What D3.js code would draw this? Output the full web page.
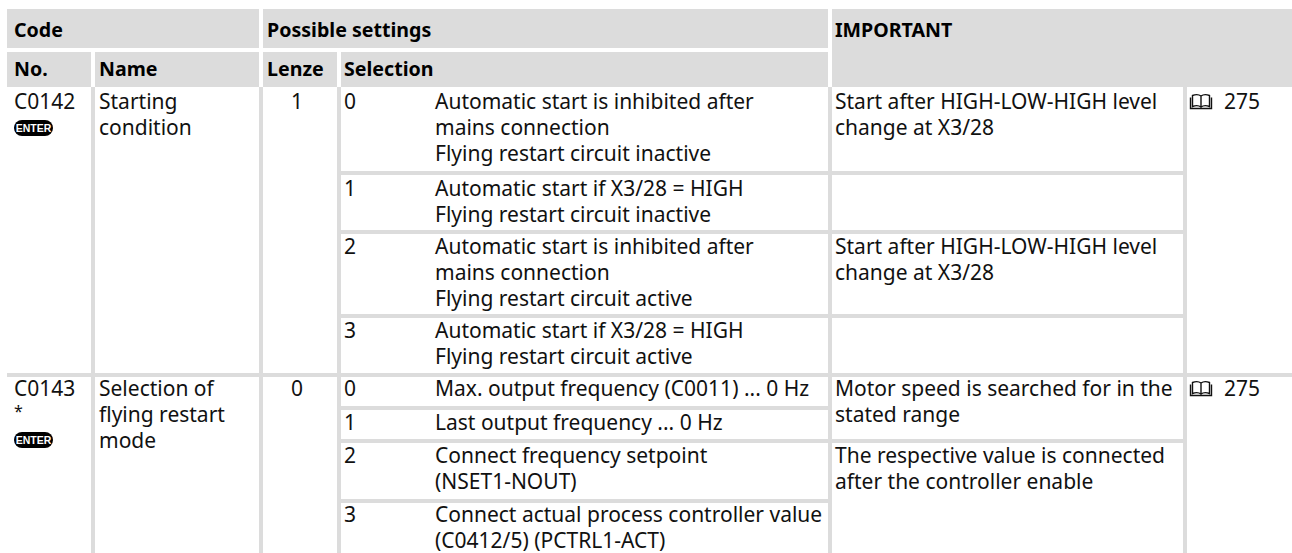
<!DOCTYPE html>
<html>
<head>
<meta charset="utf-8">
<script src="https://cdn.jsdelivr.net/npm/d3@7"></script>
<style>
	html, body { margin: 0; padding: 0; background: #fff; }
	svg { display: block; }
	text { font-family: "Noto Sans", sans-serif; font-size: 21px; fill: #111; }
	.head { font-weight: 700; font-size: 19.6px; fill: #000; }
	.mark { font-size: 16px; }
	.badge { font-family: "Liberation Sans", sans-serif; font-size: 10.5px; font-weight: 700; fill: #fff; }
</style>
</head>
<body>
<script>
//Table content
var headTop = ["Code", "Possible settings", "IMPORTANT"];
var headSub = ["No.", "Name", "Lenze", "Selection"];
var codes = ["C0142", "C0143"];
var codeMarks = ["", "*"];
var names = [["Starting", "condition"], ["Selection of", "flying restart", "mode"]];
var lenzeValues = ["1", "0"];
var pageRefs = ["275", "275"];
var selectionKeys = ["0", "1", "2", "3", "0", "1", "2", "3"];
var selectionText = [
	["Automatic start is inhibited after", "mains connection", "Flying restart circuit inactive"],
	["Automatic start if X3/28 = HIGH", "Flying restart circuit inactive"],
	["Automatic start is inhibited after", "mains connection", "Flying restart circuit active"],
	["Automatic start if X3/28 = HIGH", "Flying restart circuit active"],
	["Max. output frequency (C0011) ... 0 Hz"],
	["Last output frequency ... 0 Hz"],
	["Connect frequency setpoint", "(NSET1-NOUT)"],
	["Connect actual process controller value", "(C0412/5) (PCTRL1-ACT)"]
];
var noteRows = [0, 2, 4, 6];
var noteMergedRows = [5, 7];
var noteText = [
	["Start after HIGH-LOW-HIGH level", "change at X3/28"],
	["Start after HIGH-LOW-HIGH level", "change at X3/28"],
	["Motor speed is searched for in the", "stated range"],
	["The respective value is connected", "after the controller enable"]
];

//Layout configurations
var svgWidth = 1292;
var svgHeight = 553;
var grey = "#dcdcdc";
var gap = 4;
var lineStep = 26;
var columns = ["no", "name", "lenze", "sel", "note", "page", "end"];
var colX = d3.scaleOrdinal().domain(columns).range([7, 95, 263, 341, 832, 1187, 1292]);
var rowIdx = d3.range(selectionText.length + 1);
var rowY = d3.scaleOrdinal().domain(rowIdx).range([87, 175, 234, 318, 377, 410, 443, 503, 557]);
var baseOffset = d3.scaleOrdinal().domain(rowIdx).range([22, 21, 20, 20, 19, 20, 20, 19, 20]);
var codeRows = [0, 4];

var svg = d3.select("body").append("svg")
	.attr("width", svgWidth)
	.attr("height", svgHeight);

drawHeader();
drawGrid();
drawCodes();
drawSelections();
drawNotes();

function block(x0, y0, x1, y1) {
	svg.append("rect")
		.attr("x", x0).attr("y", y0)
		.attr("width", x1 - x0).attr("height", y1 - y0)
		.attr("fill", grey);
}

function baseline(r) { return rowY(r) + baseOffset(r); }

//Draws one or more lines of text from a baseline
function label(x, y, lines, cls, anchor) {
	var t = svg.append("g").selectAll("text")
		.data(lines)
		.enter()
		.append("text")
		.attr("x", x)
		.attr("y", function(d, i) { return y + i * lineStep; })
		.attr("text-anchor", anchor || "start")
		.text(function(d) { return d; });
	if (cls) t.attr("class", cls);
}

function drawHeader() {
	block(colX("no"), 9, colX("lenze") - gap, 48);
	block(colX("lenze"), 9, colX("note") - gap, 48);
	block(colX("note"), 9, colX("end"), 87);
	block(colX("no"), 52, colX("name") - gap, 87);
	block(colX("name"), 52, colX("lenze") - gap, 87);
	block(colX("lenze"), 52, colX("sel") - gap, 87);
	block(colX("sel"), 52, colX("note") - gap, 87);

	label(colX("no") + 7, 37, [headTop[0]], "head");
	label(colX("lenze") + 4, 37, [headTop[1]], "head");
	label(colX("note") + 3, 37, [headTop[2]], "head");
	["no", "name", "lenze", "sel"].forEach(function(c, i) {
		var pad = c == "no" ? 7 : (c == "sel" ? 3 : 4);
		label(colX(c) + pad, 76, [headSub[i]], "head");
	});
}

function drawGrid() {
	//verticals run the full body height
	["name", "lenze", "sel", "note", "page"].forEach(function(c) {
		block(colX(c) - gap, 87, colX(c), svgHeight);
	});
	rowIdx.slice(1, -1).forEach(function(r) {
		var isCode = codeRows.indexOf(r) >= 0;
		var merged = noteMergedRows.indexOf(r) >= 0;	//notes cell spans two selection rows
		var x1 = isCode ? colX("end") : (merged ? colX("note") - gap : colX("page") - gap);
		block(isCode ? colX("no") : colX("sel"), rowY(r) - gap, x1, rowY(r));
	});
}

function drawCodes() {
	codes.forEach(function(code, i) {
		var r = codeRows[i];
		var base = baseline(r);
		label(colX("no") + 7, base, [code]);
		if (codeMarks[i]) label(colX("no") + 7, base + 21, [codeMarks[i]], "mark");
		drawEnter(colX("no") + 7, i == 0 ? 120 : 432);
		label(colX("name") + 4, base, names[i]);
		label(297, base, [lenzeValues[i]], null, "middle");
		drawBook(colX("page") + 3, base - 15);
		label(colX("page") + 37, base, [pageRefs[i]]);
	});
}

function drawEnter(x, y) {
	svg.append("rect")
		.attr("x", x).attr("y", y)
		.attr("width", 39).attr("height", 16)
		.attr("rx", 8)
		.attr("fill", "#000");
	svg.append("text")
		.attr("class", "badge")
		.attr("x", x + 19.5)
		.attr("y", y + 12)
		.attr("text-anchor", "middle")
		.text("ENTER");
}

function drawBook(x, y) {
	svg.append("path")
		.attr("transform", "translate(" + x + "," + y + ")")
		.attr("d", "M2.5 1.5C5 0.5 9 0.5 11 2C13 0.5 17 0.5 19.5 1.5V12.5C17 11.5 13 11.5 11 13C9 11.5 5 11.5 2.5 12.5ZM11 2V13M0.5 3.5V14.5H21.5V3.5")
		.attr("fill", "none")
		.attr("stroke", "#111")
		.attr("stroke-width", 1.4);
}

function drawSelections() {
	selectionText.forEach(function(lines, r) {
		label(colX("sel") + 3, baseline(r), [selectionKeys[r]]);
		label(435, baseline(r), lines);
	});
}

function drawNotes() {
	noteText.forEach(function(lines, i) {
		var r = noteRows[i];
		label(colX("note") + 3, baseline(r), lines);
	});
}
</script>
</body>
</html>
